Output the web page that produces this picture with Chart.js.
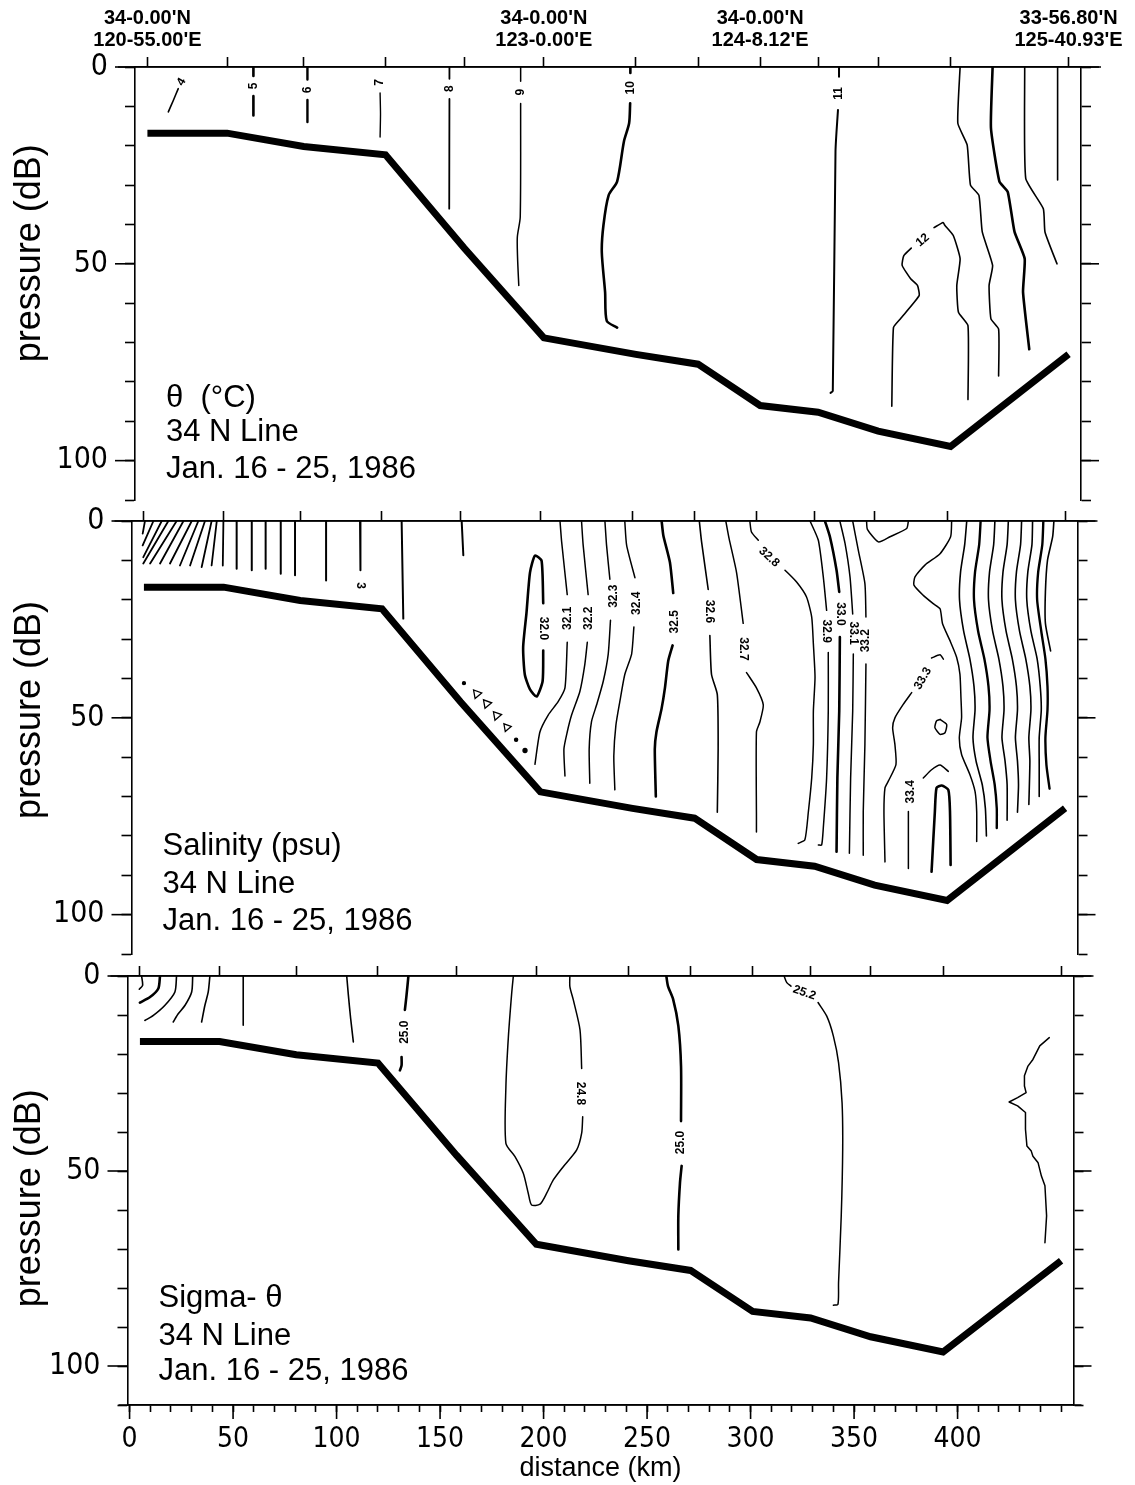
<!DOCTYPE html>
<html><head><meta charset="utf-8">
<script src="https://cdn.jsdelivr.net/npm/chart.js@4.4.1/dist/chart.umd.min.js"></script>
<style>
html,body{margin:0;padding:0;background:#fff;}
#wrap{position:relative;width:1135px;height:1485px;overflow:hidden;background:#fff;}
canvas{position:absolute;left:0;}
</style></head><body>
<div id="wrap">
<canvas id="c1" width="1135" height="540" style="top:0px"></canvas>
<canvas id="c2" width="1135" height="520" style="top:480px"></canvas>
<canvas id="c3" width="1135" height="550" style="top:935px"></canvas>
</div>
<script>
// ---------------- DATA ----------------
// station positions (km) and bottom pressure (dB)
const stationKm = [5, 43.5, 80.5, 120, 158, 196.5, 241, 271, 301, 329, 358, 393, 450];
const bottomP   = [16.8, 16.8, 20.2, 22.3, 46, 68.8, 73, 75.5, 86, 87.7, 92.5, 96.4, 73];
const stationLabelIndex = [0, 5, 8, 12];
const stationLabelLines = [["34-0.00'N","120-55.00'E"],["34-0.00'N","123-0.00'E"],["34-0.00'N","124-8.12'E"],["33-56.80'N","125-40.93'E"]];
const xTickLabels = [0, 50, 100, 150, 200, 250, 300, 350, 400];
const yTickLabels = [0, 50, 100];
const xTitle = 'distance (km)';
const yTitle = 'pressure (dB)';

// ---- Potential temperature contours [km, dB]; null = gap for label
const t4  = [[15.1,11.4],[17.5,8.5],[19.9,5.5]];
const t5  = [[56.2,0],[56.2,2.3],null,[56.2,7.4],[56.2,12.3]];
const t6  = [[82.3,0],[82.3,3.2],null,[82.3,8.4],[82.3,14]];
const t7  = [[117.4,6.6],[117.6,12],[117.4,17.8]];
const t8  = [[150.9,0],[150.9,3],null,[150.9,8.1],[150.8,36]];
const t9  = [[185.3,0],[185.3,3.6],null,[185.3,9.3],[185.1,38.1],[183.7,43.2],[183.8,48.3],[184.4,55.5]];
const t10 = [[238.3,0],[238.3,1.5],null,[238.2,9.2],[237.7,14.3],[235.2,18.9],[231.9,29.1],[227.8,32.6],[225.3,40.2],[224.5,47],[226.1,57.2],[226.9,64.5],[231.9,66.2]];
const t11 = [[339.1,0],[339.1,2.5],null,[338.6,10.9],[337.4,21.5],[336.1,82.3],[335,82.8]];
const t12 = [[364.6,86.2],[365.4,66.2],[368.7,64],[377.8,58.1],[377,55.5],[373.7,53.8],[369.6,50.4],[370.4,47.9],[374,46],null,[385,40.8],[389.4,39.5],[390.2,40.2],[394.3,42.8],[397.6,48.7],[396,55.5],[396.8,62.3],[401.4,65.7],[401.4,84.5]];
const t13 = [[397.6,0],[396.5,14.3],[401,19.8],[402.6,30],[406.7,32.6],[408.3,41.9],[413.3,50.4],[411.6,55.5],[412.5,64],[416.2,66.6],[416.2,78.5]];
const t14 = [[413.3,0],[412.5,15.5],[416.6,29.1],[420.6,31.7],[423.9,41.9],[428.8,48.7],[428,57.2],[431,71.7]];
const t15 = [[428.8,0],[429.3,28.3],[437.8,36],[438.6,41.9],[444.4,50]];
const t16 = [[444.7,0],[444.7,28.7]];
const tempLabelText = ['4','5','6','7','8','9','10','11','12'];
const tempLabelKm   = [21.5, 56.2, 82.3, 117.4, 150.9, 185.3, 238.3, 339.1, 379.5];
const tempLabelP    = [3.8, 4.8, 5.8, 3.9, 5.5, 6.4, 5.3, 6.7, 44];

// ---- Salinity contours
const salShortTopKm = [5.5, 9.6, 13.6, 16.8, 20.8, 24.1, 28.1, 31.3, 34.5, 37.7, 40.2, 43.4, 49.8, 57.1, 63.8, 71.1, 78, 93, 109.4, 129.5, 158.5];
const salShortEndKm = [4.4, 4.4, 4.7, 4.7, 8, 12.8, 17.6, 22.4, 27.3, 32.9, 37.7, 43.1, 49.8, 57.1, 63.8, 71.1, 78, 93, 109.6, 130.3, 159.3];
const salShortEndP  = [3.2, 6.2, 9.2, 10.8, 10.8, 10.8, 10.8, 11.3, 11.3, 11.7, 11.3, 11.3, 12.1, 12.5, 12.1, 13.4, 13.8, 15.1, 12.5, 24.8, 8.7];
const sal320 = [[197.9,32.9],[197.6,40.7],[194.7,44.6],[191.5,42.8],[189,39],[188.2,32.1],[189.8,23.4],[191.5,13.1],[193.9,8.8],[197.1,10.1],[197.9,20.9]];
const sal321 = [[206,0],[206.8,5.3],[209.5,18.7],null,[209.5,30.8],[208.4,42.4],[205.1,45.9],[200.3,49.3],[196.3,53.6],[193.9,61.8]];
const sal322 = [[216.4,0],[217.2,6.2],[219.6,18.7],null,[219.2,30.8],[218,36.4],[215.6,43.3],[211.6,49.3],[209.5,53.6],[207.9,57.9],[208.4,64.8]];
const sal323 = [[227.7,0],[228.5,6.2],[230.1,14.8],null,[230.4,25.2],[229.3,33.8],[226.9,40.7],[223.7,46.7],[221.2,51],[220.1,57.9],[220.4,66.6]];
const sal324 = [[237.3,0],[238.2,6.2],[242.2,14.4],null,[241.7,26.9],[240.6,33.8],[237.3,39],[234.9,45.9],[233,51.9],[232,59.7],[232.5,68.3]];
const sal325 = [[255.1,0],[255.9,3.6],[259.1,10.5],[260.7,18.3],null,[260.4,31.6],[258.3,35.5],[256.7,42.4],[255.1,47.6],[252.6,53.6],[251.8,57.9],[252.3,70]];
const sal326 = [[273.3,0],[274.4,5.3],[277.6,17.4],null,[278.4,29.1],[279.2,39],[282,44.1],[282.4,57.9],[282,74]];
const sal327 = [[286.1,0],[287.7,4.5],[291.3,13.1],[294.5,26],null,[296.1,38.5],[300.9,42.4],[304.2,46.7],[302.6,51],[300.9,53.6],[300.9,75.2],[300.9,79]];
const sal328 = [[297.7,0],[298.5,2.8],[301.8,4.9],null,[314.7,12.5],[320.3,15.5],[325.1,19.3],[327.6,24.4],[328.4,31.2],[329.2,39.7],[328.4,48.3],[328.4,56.8],[327.6,65.3],[326,73.8],[324.3,81],[321.1,81.9]];
const sal329 = [[326.8,0],[330.8,4.9],[333.2,14.2],[334.8,22.7],null,[335.6,33.4],[335.6,48.3],[334.8,65.3],[333.2,78],[332.4,82.3],[330.8,82.3]];
const sal330 = [[334,0],[336.4,4],[339.6,12.5],[340.9,18],null,[341.2,29.5],[340.9,48.3],[340,65.3],[339.6,84]];
const sal331 = [[341.2,0],[343.7,5.7],[346.1,14.2],[347.4,23.6],null,[347.7,33.8],[347.4,48.3],[346.4,65.3],[345.8,84.4]];
const sal332 = [[347.4,0],[350.1,7.4],[353.3,15.9],[353.8,24.4],null,[353.8,36.3],[353.3,56.8],[352.5,73.8],[352.5,84.9]];
const salTopLoop = [[354.1,0],[354.5,2.1],[359.8,5.3],[365.4,4],[373.5,1.9],[374.3,0]];
const sal333 = [[391.2,35.1],[389.6,34],[385.5,34.8],null,[375.9,43.6],[371.8,46.6],[367.8,50],[366.7,52.5],[367.8,56.8],[368.3,61.9],[364.6,66.1],[363,67.8],[362.5,73.8],[363,86.6]];
const sal334 = [[374.3,88.3],[374.3,73.8],null,[381.5,65.3],[385.5,63.2],[389.6,62],[393.6,63.6]];
const salU = [[385.5,89.1],[387.1,73.8],[387.9,67.8],[390.4,67.2],[393.6,68.3],[394.4,73.8],[394.7,87.4]];
const salLoop = [[389.6,50.4],[392.8,51.7],[392,53.8],[389.6,54.2],[387.1,52.5],[387.9,50.8],[389.6,50.4]];
const salB0 = [[395.2,0],[394.7,4],[389.6,8.3],[382.3,11.2],[377.5,14.2],[377,16.3],[381.5,18.9],[386.3,21],[389.6,22.3],[390.8,26.1],[394.4,30.4],[397.6,34.6],[399.2,38.9],[399.7,44.9],[400,50],[398.9,55.1],[400,59.3],[404,64.4],[406.5,68.7],[407.3,73.8],[407.3,81.4]];
const salB1 = [[402.5,0],[401.5,6],[399.5,13],[399,20],[401,28],[404,35],[406,42],[406.5,48],[405.5,55],[407,61],[410,67],[411.5,73],[412,80]];
const salB2 = [[409.2,0],[408.5,6],[406.5,13],[406,20],[408,28],[411,35],[413,42],[413.5,48],[412.5,55],[414,61],[416,67],[417,73],[417,78]];
const salB3 = [[416.1,0],[415.5,6],[413.5,13],[413,20],[415,28],[418,35],[420,42],[420.5,48],[419.5,55],[421,61],[422,67],[422,76]];
const salB4 = [[422.6,0],[422,6],[420,13],[419.5,20],[421.5,28],[424.5,35],[426.5,42],[427,48],[426,55],[427,61],[427.5,67],[427,74]];
const salB5 = [[429,0],[428.5,6],[426.5,13],[426,20],[428,28],[431,35],[433,42],[433.5,48],[432.5,55],[433,61],[432.5,72]];
const salB6 = [[434.3,0],[434,6],[432,13],[431.5,20],[433.5,28],[436.5,35],[438,42],[438.5,48],[437.5,55],[437.5,62],[437.5,70]];
const salB7 = [[439.5,0],[439,6],[437,13],[436.5,20],[438.5,28],[440.5,35],[441.5,42],[441.5,48],[440.5,55],[441,62],[442.5,68]];
const salB8 = [[444.6,0],[444,4],[441.5,10],[440.5,18],[440.5,26],[443,33]];
const salTriKm = [159.6, 165.8, 170.6, 175.4, 180.3, 184.8, 189.1];
const salTriP  = [41.2, 43.9, 46.4, 49.4, 52.4, 55.6, 58.3];
const salLabelText = ['32.0','32.1','32.2','32.3','32.4','32.5','32.6','32.7','32.8','32.9','33.0','33.1','33.2','33.3','33.4','3'];
const salLabelKm   = [197.9, 209.5, 220.1, 231.7, 243, 261.5, 278.1, 294.5, 307, 334.8, 341.2, 347.7, 353.8, 381.3, 375.6, 109.4];
const salLabelP    = [27.3, 24.7, 24.7, 19.1, 20.9, 25.6, 23, 32.5, 9.2, 28, 23.6, 28.5, 30.4, 40, 68.8, 16.4];

// ---- Sigma-theta contours
const sig1 = [[5.8,0],[6.3,2.4],[4.7,3.4]];
const sig2 = [[14.7,0],[13.9,3.2],[9.9,5.4],[5,6.8]];
const sig3 = [[22.7,0],[21.9,4.1],[17.1,7.5],[11.5,10.1],[7.4,11.4]];
const sig4 = [[30.5,0],[30,4.1],[26.8,7.5],[23.5,9.7],[21.1,11.8]];
const sig5 = [[38.8,0],[38,4.1],[36.4,7.5],[34.8,11.8]];
const sig6 = [[54.9,0],[54.9,12.6]];
const sig7 = [[104.9,0],[105.7,4.9],[106.8,10.9],[108.1,16.9]];
const sig250a = [[134.7,0],[133.8,4.9],[133,8.7],null,[131.4,20.8],[131.4,22.9],[130.6,24.2]];
const sig248 = [[185.4,0],[184.6,4.4],[183,15.6],[181.8,28.4],[181.8,42.9],[186.2,46.3],[190.2,50.6],[192.6,55.7],[194.2,58.7],[198.3,58.5],[201.5,55.7],[204.7,52.3],[209.5,48.9],[216,44.6],[218.4,40.3],[218.9,36.1],null,[218.4,23.7],[217.6,13.8],[214.4,6.2],[212.7,2.7],[212.7,0]];
const sig250b = [[259.3,0],[260.1,2.6],[262.6,6],[265.1,12.8],[266.4,23.1],[266.4,37.2],null,[266.7,48.7],[265.9,53],[265.1,61.5],[265.1,70.1]];
const sig252 = [[316.2,0],[317.5,1.7],[319.5,2.6],null,[332.6,6.8],[336.8,10.3],[340,15.4],[342.5,22.2],[344.2,32.5],[344.5,44.4],[343.8,61.5],[342.5,78.6],[342.2,84.2],[340,84.4]];
const sigR = [[444.3,15.8],[439.7,17.9],[436.4,21.4],[434,23.1],[432.3,25.6],[432.3,28.2],[433.1,29.9],[429,31.2],[424.9,32.3],[429,33.3],[432.8,35],[432.8,39.3],[433.5,43.6],[435.6,44.9],[436.4,46.2],[438.9,47.9],[440.5,51.3],[442.2,53.8],[443,61.5],[442.2,68.4]];
const sigLabelText = ['25.0','24.8','25.0','25.2'];
const sigLabelKm   = [133, 217.8, 266.4, 326];
const sigLabelP    = [14.4, 30.1, 42.7, 4.3];

const panel1Lines = ['\u03b8  (\u00b0C)', '34 N Line', 'Jan. 16 - 25, 1986'];
const panel2Lines = ['Salinity (psu)', '34 N Line', 'Jan. 16 - 25, 1986'];
const panel3Lines = ['Sigma- \u03b8', '34 N Line', 'Jan. 16 - 25, 1986'];

// ---------------- STYLE / BUILD ----------------
const FONT = "'Liberation Sans', Arial, Helvetica, sans-serif";
const NARROW = "'Liberation Sans Narrow', 'Arial Narrow', 'DejaVu Sans Condensed', sans-serif";
const BLACK = '#000';
const X_MIN = -1, X_MAX = 456, Y_MIN = 0, Y_MAX = 110;

function toXY(arr) { return arr.map(p => p ? {x: p[0], y: p[1]} : {x: null, y: null}); }
function contour(arr, w, tension) {
  return {type: 'line', data: toXY(arr), borderColor: BLACK, borderWidth: w, pointRadius: 0,
    tension: tension === undefined ? 0.25 : tension, spanGaps: false, fill: false,
    borderCapStyle: 'round', borderJoinStyle: 'round', xAxisID: 'x', yAxisID: 'y'};
}
function bottomLine() {
  return {type: 'line', data: stationKm.map((k, i) => ({x: k, y: bottomP[i]})), borderColor: BLACK,
    borderWidth: 7, pointRadius: 0, tension: 0, borderJoinStyle: 'miter', borderCapStyle: 'butt',
    xAxisID: 'x', yAxisID: 'y'};
}

const decorPlugin = {
  id: 'decor',
  afterDraw(chart, args, o) {
    const ctx = chart.ctx, ca = chart.chartArea, x = chart.scales.x, y = chart.scales.y;
    ctx.save();
    ctx.strokeStyle = BLACK; ctx.fillStyle = BLACK; ctx.lineWidth = 1.6;
    const seg = (a, b, c, d) => { ctx.beginPath(); ctx.moveTo(a, b); ctx.lineTo(c, d); ctx.stroke(); };
    yTickLabels.forEach(v => { const py = y.getPixelForValue(v); seg(ca.left - 20, py, ca.left, py); seg(ca.right, py, ca.right + 18, py); });
    seg(ca.left - 17, ca.top, ca.right + 20, ca.top);
    if (o.bottomAxis) {
      seg(ca.left - 9, ca.bottom, ca.right + 8, ca.bottom);
      xTickLabels.forEach(v => { const px = x.getPixelForValue(v); seg(px, ca.bottom, px, ca.bottom + 14); });
    }
    ctx.font = 'bold 12px ' + FONT; ctx.textAlign = 'center'; ctx.textBaseline = 'middle';
    o.labelText.forEach((t, i) => {
      ctx.save();
      ctx.translate(x.getPixelForValue(o.labelKm[i]), y.getPixelForValue(o.labelP[i]));
      ctx.rotate(o.labelAngle[i] * Math.PI / 180);
      ctx.fillText(t, 0, 0);
      ctx.restore();
    });
    ctx.font = '31px ' + FONT; ctx.textAlign = 'left'; ctx.textBaseline = 'alphabetic';
    o.lines.forEach((t, i) => ctx.fillText(t, ca.left + 31, y.getPixelForValue(o.lineP[i])));
    ctx.font = '36px ' + FONT; ctx.textAlign = 'center'; ctx.textBaseline = 'middle';
    ctx.save(); ctx.translate(30, y.getPixelForValue(o.titleP)); ctx.rotate(-Math.PI / 2);
    ctx.fillText(yTitle, 0, 0); ctx.restore();
    ctx.restore();
  }
};

function buildOptions(o) {
  const border = {display: true, color: BLACK, width: 1.6};
  const grid = {drawOnChartArea: false, drawTicks: true, tickLength: 10, tickColor: BLACK, tickWidth: 1.6, color: BLACK};
  return {
    responsive: false, animation: false, events: [], devicePixelRatio: 1,
    layout: {padding: o.padding},
    plugins: {legend: {display: false}, tooltip: {enabled: false}, decor: o.decor},
    scales: {
      x: {type: 'linear', position: 'bottom', min: X_MIN, max: X_MAX, display: o.bottomAxis,
        afterFit: s => { s.height = o.bottomAxis ? 80 : 0; },
        border: border, grid: Object.assign({}, grid, {tickLength: 7}),
        ticks: {stepSize: 10, includeBounds: false, autoSkip: false, maxRotation: 0, minRotation: 0, padding: 14,
          color: BLACK, font: {family: NARROW, size: 28, lineHeight: 1},
          callback: v => xTickLabels.includes(v) ? String(v) : ''},
        title: {display: true, text: xTitle, color: BLACK, font: {family: FONT, size: 27, lineHeight: 1.2}, padding: {top: 0, bottom: 0}}},
      x2: {type: 'linear', position: 'top', min: X_MIN, max: X_MAX,
        afterFit: s => { s.height = o.topH; },
        afterBuildTicks: s => { s.ticks = stationKm.map(v => ({value: v})); },
        border: border, grid: grid,
        ticks: {display: o.stationLabels, autoSkip: false, maxRotation: 0, minRotation: 0, padding: 6, color: BLACK,
          font: {family: FONT, size: 20, weight: 'bold', lineHeight: 1.08},
          callback: (v, i) => { const k = stationLabelIndex.indexOf(i); return k >= 0 ? stationLabelLines[k] : ''; }}},
      y: {type: 'linear', position: 'left', min: Y_MIN, max: Y_MAX, reverse: true,
        afterFit: s => { s.width = o.leftW; },
        border: border, grid: grid,
        ticks: {stepSize: 10, autoSkip: false, padding: 17, color: BLACK, font: {family: NARROW, size: 30, lineHeight: 1},
          callback: v => yTickLabels.includes(v) ? String(v) : ''}},
      y2: {type: 'linear', position: 'right', min: Y_MIN, max: Y_MAX, reverse: true,
        afterFit: s => { s.width = o.rightW; },
        border: border, grid: grid,
        ticks: {stepSize: 10, display: false}}
    }
  };
}

// ---- Panel 1: potential temperature
new Chart(document.getElementById('c1'), {
  data: {datasets: [
    contour(t4, 1.6), contour(t5, 2.6), contour(t6, 2.4), contour(t7, 1.4), contour(t8, 1.8), contour(t9, 1.5),
    contour(t10, 2.6), contour(t11, 2.0), contour(t12, 1.6, 0.15), contour(t13, 1.6, 0.15), contour(t14, 2.6, 0.15),
    contour(t15, 1.6, 0.15), contour(t16, 1.6), bottomLine()]},
  options: buildOptions({padding: {top: 0, bottom: 40, left: 0, right: 0}, leftW: 135, rightW: 54, topH: 67,
    stationLabels: true, bottomAxis: false,
    decor: {bottomAxis: false, labelText: tempLabelText, labelKm: tempLabelKm, labelP: tempLabelP,
      labelAngle: [-60, -90, -90, -90, -90, -90, -90, -90, -40],
      lines: panel1Lines, lineP: [86.4, 95, 104.4], titleP: 47.3}}),
  plugins: [decorPlugin]
});

// ---- Panel 2: salinity
const salSets = salShortTopKm.map((k, i) => contour([[k, 0], [salShortEndKm[i], salShortEndP[i]]], i < 12 ? 1.8 : 2.0, 0));
[[sal320, 2.6], [sal321, 1.5], [sal322, 1.5], [sal323, 1.5], [sal324, 1.5], [sal325, 2.6], [sal326, 1.6], [sal327, 1.5],
 [sal328, 1.5], [sal329, 1.5], [sal330, 2.6], [sal331, 1.5], [sal332, 1.5], [salTopLoop, 1.5], [sal333, 1.5], [sal334, 1.5],
 [salU, 2.6], [salLoop, 1.5], [salB0, 1.5], [salB1, 1.6], [salB2, 2.4], [salB3, 1.6], [salB4, 1.6], [salB5, 1.6],
 [salB6, 1.6], [salB7, 2.4], [salB8, 1.6]].forEach(([a, w]) => salSets.push(contour(a, w, 0.2)));
salSets.push({type: 'scatter', data: salTriKm.map((k, i) => ({x: k, y: salTriP[i]})), showLine: false,
  pointStyle: ['circle', 'triangle', 'triangle', 'triangle', 'triangle', 'circle', 'circle'],
  pointRadius: [1.5, 5, 5, 5, 4.5, 1.6, 2], pointRotation: 200, pointBorderColor: BLACK, pointBorderWidth: 1.3,
  pointBackgroundColor: [BLACK, 'rgba(0,0,0,0)', 'rgba(0,0,0,0)', 'rgba(0,0,0,0)', 'rgba(0,0,0,0)', BLACK, BLACK],
  xAxisID: 'x', yAxisID: 'y'});
salSets.push(bottomLine());
new Chart(document.getElementById('c2'), {
  data: {datasets: salSets},
  options: buildOptions({padding: {top: 25, bottom: 46, left: 0, right: 0}, leftW: 131.5, rightW: 57.5, topH: 16,
    stationLabels: false, bottomAxis: false,
    decor: {bottomAxis: false, labelText: salLabelText, labelKm: salLabelKm, labelP: salLabelP,
      labelAngle: [90, -90, -90, -90, -90, -90, 90, 90, 42, 90, 90, 90, -90, -60, -90, 90],
      lines: panel2Lines, lineP: [84.8, 94.4, 103.8], titleP: 48}}),
  plugins: [decorPlugin]
});

// ---- Panel 3: sigma-theta
new Chart(document.getElementById('c3'), {
  data: {datasets: [
    contour(sig1, 1.6), contour(sig2, 2.6), contour(sig3, 1.6), contour(sig4, 1.6), contour(sig5, 1.6), contour(sig6, 1.6),
    contour(sig7, 1.6), contour(sig250a, 2.6), contour(sig248, 1.5), contour(sig250b, 2.6), contour(sig252, 1.5),
    contour(sigR, 1.5, 0), bottomLine()]},
  options: buildOptions({padding: {top: 25, bottom: 0, left: 0, right: 0}, leftW: 127.5, rightW: 61.5, topH: 16,
    stationLabels: false, bottomAxis: true,
    decor: {bottomAxis: true, labelText: sigLabelText, labelKm: sigLabelKm, labelP: sigLabelP,
      labelAngle: [-90, 90, -90, 20],
      lines: panel3Lines, lineP: [84.8, 94.6, 103.6], titleP: 57}}),
  plugins: [decorPlugin]
});
</script>
</body></html>
